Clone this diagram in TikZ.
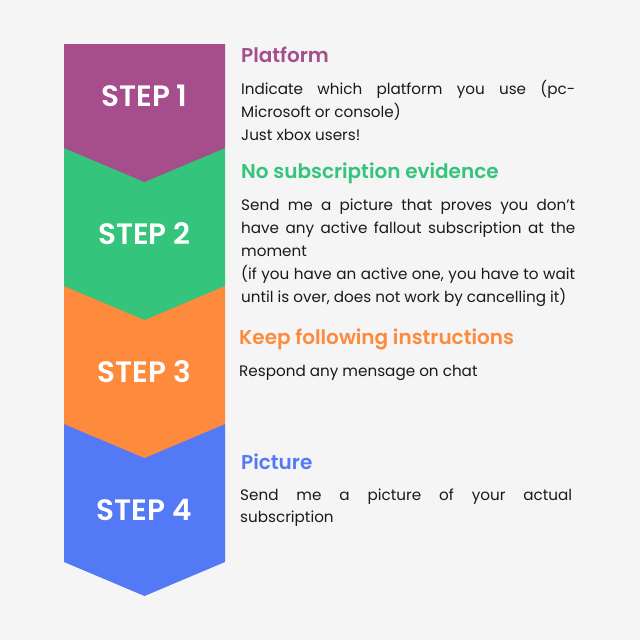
\documentclass[tikz,border=0pt]{standalone}
\usepackage{fontspec}
\setmainfont{Poppins}
\newfontfamily\semib{Poppins SemiBold}
\definecolor{bg}{HTML}{F5F5F5}
\definecolor{cpurple}{HTML}{A64D8C}
\definecolor{cgreen}{HTML}{34C47B}
\definecolor{corange}{HTML}{FD8A3D}
\definecolor{cblue}{HTML}{5479F6}
\definecolor{ink}{HTML}{1A1A1A}
\tikzset{
  steplabel/.style={text=white, font=\fontsize{29.5}{32}\selectfont\semib, inner sep=0},
  titletext/.style={anchor=base west, inner sep=0, font=\fontsize{20}{22}\selectfont\semib},
  bodyline/.style={anchor=base west, inner sep=0, text=ink, font=\fontsize{15.2}{17}\selectfont},
}
\newcommand{\jline}[2]{\makebox[#1][s]{#2}}
\begin{document}
\begin{tikzpicture}[x=1pt,y=-1pt]
\fill[bg] (0,0) rectangle (640,640);
\useasboundingbox (0,0) rectangle (640,640);
% chevrons, bottom first
\fill[cblue]   (64,424) -- (225,424) -- (225,562) -- (144.5,596) -- (64,562) -- cycle;
\fill[corange] (64,286) -- (225,286) -- (225,424) -- (144.5,458) -- (64,424) -- cycle;
\fill[cgreen]  (64,148) -- (225,148) -- (225,286) -- (144.5,320) -- (64,286) -- cycle;
\fill[cpurple] (64,44)  -- (225,44)  -- (225,148) -- (144.5,182) -- (64,148) -- cycle;
\node[steplabel] (s1) at (144.5,96)  {STEP 1};
\node[steplabel] (s2) at (144.5,234) {STEP 2};
\node[steplabel] (s3) at (144.5,372) {STEP 3};
\node[steplabel] (s4) at (144.5,510) {STEP 4};
% step 1
\node[titletext, text=cpurple] (t1) at (241,62.5) {Platform};
\node[bodyline] (b1a) at (241,94)  {\jline{334pt}{Indicate which platform you use (pc-}};
\node[bodyline] (b1b) at (241,117) {Microsoft or console)};
\node[bodyline] (b1c) at (241,140) {Just xbox users!};
% step 2
\node[titletext, text=cgreen] (t2) at (241,178) {No subscription evidence};
\node[bodyline] (b2a) at (241,210.5) {\jline{334pt}{Send me a picture that proves you don’t}};
\node[bodyline] (b2b) at (241,233.5) {\jline{334pt}{have any active fallout subscription at the}};
\node[bodyline] (b2c) at (241,256.5) {moment};
\node[bodyline] (b2d) at (241,279.5) {\jline{334pt}{(if you have an active one, you have to wait}};
\node[bodyline] (b2e) at (241,302.5) {until is over, does not work by cancelling it)};
% step 3
\node[titletext, text=corange] (t3) at (239,344) {Keep following instructions};
\node[bodyline] (b3a) at (239,376.5) {Respond any mensage on chat};
% step 4
\node[titletext, text=cblue] (t4) at (241,469) {Picture};
\node[bodyline] (b4a) at (240,500) {\jline{332pt}{Send me a picture of your actual}};
\node[bodyline] (b4b) at (240,522.5) {subscription};
\end{tikzpicture}
\end{document}
